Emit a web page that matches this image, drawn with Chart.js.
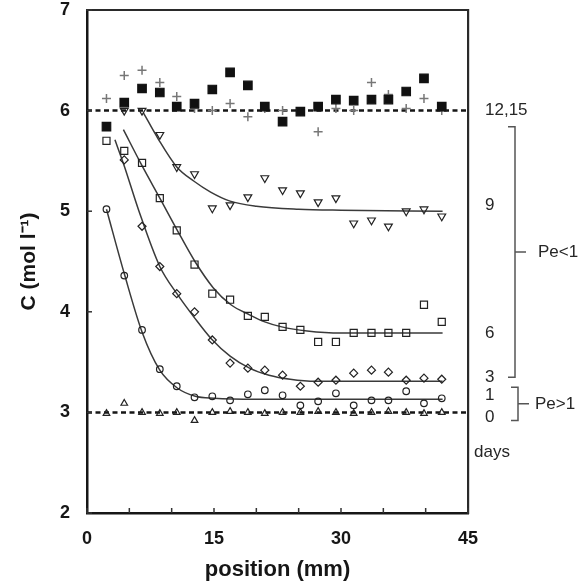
<!DOCTYPE html>
<html>
<head>
<meta charset="utf-8">
<script src="https://cdn.jsdelivr.net/npm/chart.js@4.4.1/dist/chart.umd.min.js"></script>
<style>
  html, body { margin: 0; padding: 0; background: #fff; }
  #wrap { width: 581px; height: 587px; position: relative; }
</style>
</head>
<body>
<div id="wrap"><canvas id="chart"></canvas></div>
<script>
// Sampling positions along the column (mm)
const positions = [2.3, 4.4, 6.5, 8.6, 10.6, 12.7, 14.8, 16.9, 19.0, 21.0, 23.1, 25.2, 27.3, 29.4, 31.5, 33.6, 35.6, 37.7, 39.8, 41.9];

// Measured concentrations (mol/l) per day
const day0  = [2.99, 3.09, 3.00, 2.99, 3.00, 2.92, 3.00, 3.01, 3.00, 2.99, 3.00, 3.00, 3.01, 3.00, 2.99, 3.00, 3.01, 3.00, 2.99, 3.00];
const day1  = [5.02, 4.36, 3.82, 3.43, 3.26, 3.15, 3.16, 3.12, 3.18, 3.22, 3.17, 3.07, 3.11, 3.19, 3.07, 3.12, 3.12, 3.21, 3.09, 3.14];
const day3  = [null, 5.51, 4.85, 4.45, 4.18, 4.00, 3.72, 3.49, 3.44, 3.42, 3.37, 3.26, 3.30, 3.32, 3.39, 3.42, 3.40, 3.32, 3.34, 3.33];
const day6  = [5.70, 5.60, 5.48, 5.13, 4.81, 4.47, 4.18, 4.12, 3.96, 3.95, 3.85, 3.82, 3.70, 3.70, 3.79, 3.79, 3.79, 3.79, 4.07, 3.90];
const day9  = [null, 6.00, 6.00, 5.76, 5.44, 5.37, 5.03, 5.06, 5.14, 5.33, 5.21, 5.18, 5.09, 5.13, 4.88, 4.91, 4.85, 5.00, 5.02, 4.95];
const day12 = [6.12, 6.35, 6.40, 6.28, 6.14, 6.02, 6.00, 6.07, 5.94, 6.02, 6.00, 5.99, 5.79, 6.02, 6.00, 6.28, 6.16, 6.02, 6.12, 6.00];
const day15 = [5.84, 6.08, 6.22, 6.18, 6.04, 6.07, 6.21, 6.38, 6.25, 6.04, 5.89, 5.99, 6.04, 6.11, 6.10, 6.11, 6.11, 6.19, 6.32, 6.04];

// Fitted profiles
const fit1X = [2.3, 4.4, 6.5, 8.6, 10.7, 12.8, 15, 20, 30, 42];
const fit1Y = [5.02, 4.38, 3.80, 3.42, 3.24, 3.16, 3.14, 3.13, 3.13, 3.13];
const fit3X = [3.3, 4.4, 6.1, 8.6, 10.7, 12.7, 14.7, 16.9, 19.2, 21.5, 24, 27, 42];
const fit3Y = [5.71, 5.45, 5.01, 4.45, 4.17, 3.94, 3.73, 3.56, 3.44, 3.37, 3.33, 3.31, 3.31];
const fit6X = [4.3, 6.45, 8.6, 10.6, 12.75, 14.9, 17, 19.2, 21, 23, 26, 30, 42];
const fit6Y = [5.81, 5.46, 5.13, 4.82, 4.50, 4.24, 4.07, 3.97, 3.90, 3.85, 3.81, 3.79, 3.79];
const fit9X = [6.65, 8.4, 10.6, 12.6, 14.6, 16.9, 20, 25, 30, 42];
const fit9Y = [5.98, 5.72, 5.44, 5.30, 5.19, 5.10, 5.05, 5.02, 5.01, 5.00];

// Initial and saturation levels (dashed)
const levels = [6, 3];

// Axis ticks
const xTicks = [0, 5, 10, 15, 20, 25, 30, 35, 40, 45];
const xLabels = [0, 15, 30, 45];
const yTicks = [2, 3, 4, 5, 6, 7];

// Right-hand day labels
const dayLabels = ['12,15', '9', '6', '3', '1', '0', 'days'];
const dayLabelLevels = [6.0, 5.06, 3.79, 3.35, 3.17, 2.95, 2.60];

const FONT = '"Liberation Sans", Arial, Helvetica, sans-serif';
const INK = '#161616';

const pts = vals => positions.map((x, i) => ({ x, y: vals[i] })).filter(p => p.y !== null);
const curve = (xs, ys) => xs.map((x, i) => ({ x, y: ys[i] }));

function markers(vals, style, opts) {
    return Object.assign({
        data: pts(vals),
        showLine: false,
        pointStyle: style,
        pointRadius: 4,
        pointBorderWidth: 1.2,
        pointBorderColor: '#222',
        pointBackgroundColor: 'rgba(255,255,255,0)',
        order: 0
    }, opts || {});
}

function fitLine(xs, ys) {
    return {
        data: curve(xs, ys),
        showLine: true,
        pointRadius: 0,
        borderColor: '#3a3a3a',
        borderWidth: 1.5,
        cubicInterpolationMode: 'monotone',
        order: 1
    };
}

function dashed(level) {
    return {
        data: [{ x: 0, y: level }, { x: 45, y: level }],
        showLine: true,
        pointRadius: 0,
        borderColor: INK,
        borderWidth: 2.5,
        borderDash: [5, 3.5],
        order: 2
    };
}

// Inward tick marks on the bottom and left axes
const innerTicks = {
    id: 'innerTicks',
    afterDatasetsDraw(chart) {
        const { ctx, chartArea: a, scales: { x, y } } = chart;
        ctx.save();
        ctx.strokeStyle = '#333';
        ctx.lineWidth = 1.5;
        xTicks.forEach(v => {
            const px = x.getPixelForValue(v);
            ctx.beginPath();
            ctx.moveTo(px, a.bottom);
            ctx.lineTo(px, a.bottom - 5);
            ctx.stroke();
        });
        yTicks.forEach(v => {
            const py = y.getPixelForValue(v);
            ctx.beginPath();
            ctx.moveTo(a.left, py);
            ctx.lineTo(a.left + 5, py);
            ctx.stroke();
        });
        ctx.restore();
    }
};

// Day labels and Peclet brackets on the right
const sideNotes = {
    id: 'sideNotes',
    afterDraw(chart) {
        const { ctx, chartArea: a, scales: { y } } = chart;
        ctx.save();
        ctx.fillStyle = '#262626';
        ctx.font = '17px ' + FONT;
        ctx.textBaseline = 'middle';
        ctx.textAlign = 'left';
        dayLabels.forEach((t, i) => {
            const dx = t === 'days' ? 6 : 17;
            ctx.fillText(t, a.right + dx, y.getPixelForValue(dayLabelLevels[i]));
        });

        ctx.strokeStyle = '#555';
        ctx.lineWidth = 1.5;
        const bracket = (bx, top, bottom, label, tx) => {
            const y1 = y.getPixelForValue(top);
            const y2 = y.getPixelForValue(bottom);
            const ym = (y1 + y2) / 2;
            ctx.beginPath();
            ctx.moveTo(bx - 7, y1);
            ctx.lineTo(bx, y1);
            ctx.lineTo(bx, y2);
            ctx.lineTo(bx - 7, y2);
            ctx.moveTo(bx, ym);
            ctx.lineTo(bx + 11, ym);
            ctx.stroke();
            ctx.fillText(label, tx, ym);
        };
        bracket(a.right + 47, 5.84, 3.35, 'Pe<1', a.right + 70);
        bracket(a.right + 50, 3.25, 2.92, 'Pe>1', a.right + 67);
        ctx.restore();
    }
};

const tickFont = { family: FONT, size: 18, weight: 'bold' };
const titleFont = { family: FONT, size: 22, weight: 'bold' };

new Chart(document.getElementById('chart'), {
    type: 'scatter',
    data: {
        datasets: [
            markers(day15, 'rect', { pointRadius: 6, pointBackgroundColor: '#111', pointBorderColor: '#111' }),
            markers(day12, 'cross', { pointRadius: 4.5, pointBorderColor: '#777', pointBorderWidth: 1.5 }),
            markers(day9, 'triangle', { pointRadius: 4.5, rotation: 180 }),
            markers(day6, 'rect', { pointRadius: 5 }),
            markers(day3, 'rectRot', { pointRadius: 4 }),
            markers(day1, 'circle', { pointRadius: 3.3 }),
            markers(day0, 'triangle', { pointRadius: 3.8 }),
            fitLine(fit1X, fit1Y),
            fitLine(fit3X, fit3Y),
            fitLine(fit6X, fit6Y),
            fitLine(fit9X, fit9Y),
            ...levels.map(dashed)
        ]
    },
    options: {
        responsive: true,
        maintainAspectRatio: false,
        animation: false,
        events: [],
        layout: { padding: 0 },
        plugins: {
            legend: { display: false },
            tooltip: { enabled: false }
        },
        scales: {
            x: {
                type: 'linear',
                position: 'bottom',
                min: 0,
                max: 45,
                afterBuildTicks: s => { s.ticks = xLabels.map(v => ({ value: v })); },
                ticks: { font: tickFont, color: INK, padding: 15, maxRotation: 0 },
                grid: { display: false, drawTicks: false },
                border: { display: true, color: INK, width: 2.5 },
                title: { display: true, text: 'position (mm)', font: titleFont, color: INK, padding: { top: 0, bottom: 4 } },
                afterFit: s => { s.height = 74; s.paddingLeft = 0; s.paddingRight = 0; }
            },
            y: {
                type: 'linear',
                position: 'left',
                min: 2,
                max: 7,
                afterBuildTicks: s => { s.ticks = yTicks.map(v => ({ value: v })); },
                ticks: { font: tickFont, color: INK, padding: 17 },
                grid: { display: false, drawTicks: false },
                border: { display: true, color: INK, width: 2.5 },
                title: { display: true, text: 'C (mol l⁻¹)', font: { family: FONT, size: 21, weight: 'bold' }, color: INK, padding: { top: 17, bottom: 0 } },
                afterFit: s => { s.width = 87; s.paddingTop = 0; s.paddingBottom = 0; }
            },
            x2: {
                type: 'linear',
                position: 'top',
                min: 0,
                max: 45,
                ticks: { display: false },
                grid: { display: false, drawTicks: false },
                border: { display: true, color: '#2a2a2a', width: 2 },
                afterFit: s => { s.height = 10; }
            },
            y2: {
                type: 'linear',
                position: 'right',
                min: 2,
                max: 7,
                ticks: { display: false },
                grid: { display: false, drawTicks: false },
                border: { display: true, color: '#2a2a2a', width: 2.2 },
                afterFit: s => { s.width = 113; s.paddingTop = 0; s.paddingBottom = 0; }
            }
        }
    },
    plugins: [innerTicks, sideNotes]
});
</script>
</body>
</html>
